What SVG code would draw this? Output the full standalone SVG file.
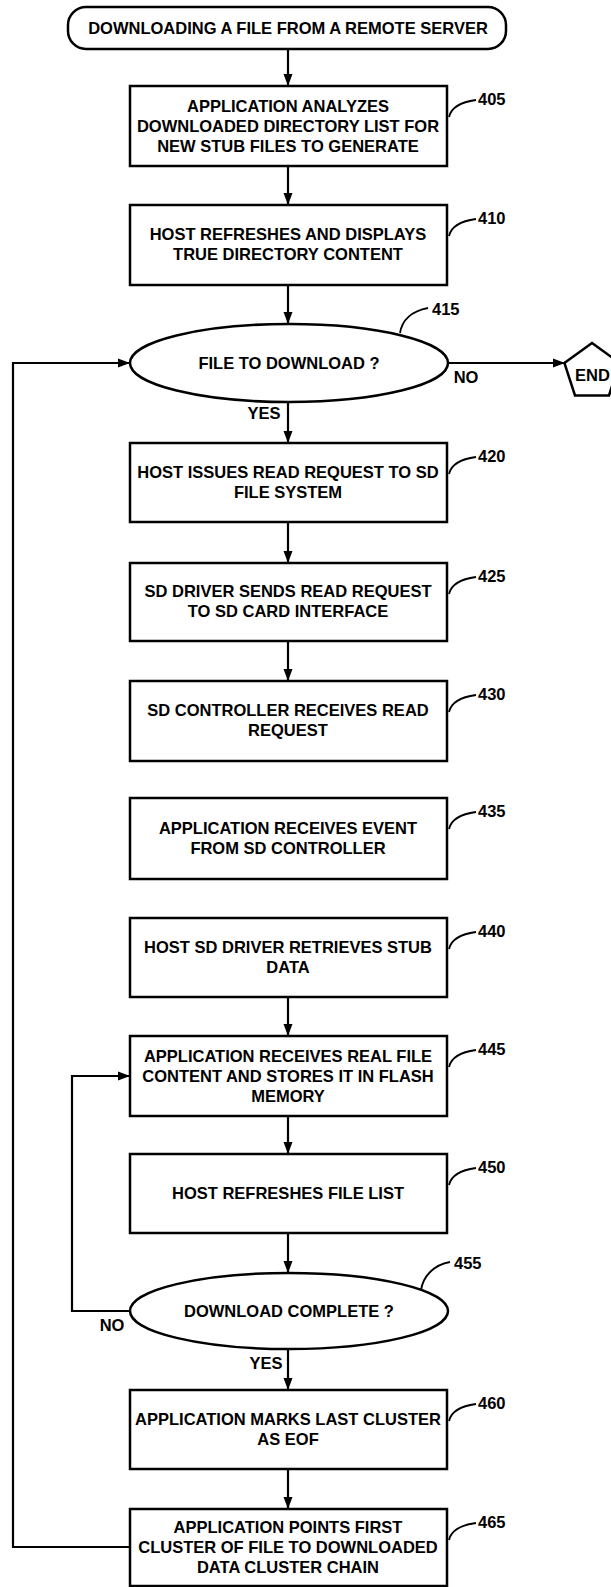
<svg xmlns="http://www.w3.org/2000/svg" width="611" height="1587" viewBox="0 0 611 1587">
<style>
text{font-family:"Liberation Sans",Arial,sans-serif;font-weight:bold;font-size:16.5px;fill:#000}
.c{text-anchor:middle}
.box{fill:#fff;stroke:#000;stroke-width:2.5}
.ln{fill:none;stroke:#000;stroke-width:2.2}
.ld{fill:none;stroke:#000;stroke-width:1.8}
</style>
<defs>
<marker id="ah" markerUnits="userSpaceOnUse" markerWidth="13" markerHeight="10" refX="12" refY="5" orient="auto">
<path d="M0,0.5 L12,5 L0,9.5 z" fill="#000"/>
</marker>
</defs>
<rect width="611" height="1587" fill="#fff"/>
<g id="connectors">
<line class="ln" x1="288" y1="49" x2="288" y2="86" marker-end="url(#ah)"/>
<line class="ln" x1="288" y1="166" x2="288" y2="205" marker-end="url(#ah)"/>
<line class="ln" x1="288" y1="285" x2="288" y2="324" marker-end="url(#ah)"/>
<line class="ln" x1="288" y1="402" x2="288" y2="443" marker-end="url(#ah)"/>
<line class="ln" x1="448" y1="363" x2="565" y2="363" marker-end="url(#ah)"/>
<line class="ln" x1="288" y1="522" x2="288" y2="563" marker-end="url(#ah)"/>
<line class="ln" x1="288" y1="641" x2="288" y2="681" marker-end="url(#ah)"/>
<line class="ln" x1="288" y1="997" x2="288" y2="1036" marker-end="url(#ah)"/>
<line class="ln" x1="288" y1="1116" x2="288" y2="1154" marker-end="url(#ah)"/>
<line class="ln" x1="288" y1="1233" x2="288" y2="1273" marker-end="url(#ah)"/>
<line class="ln" x1="288" y1="1349" x2="288" y2="1390" marker-end="url(#ah)"/>
<line class="ln" x1="288" y1="1469" x2="288" y2="1509" marker-end="url(#ah)"/>
<polyline class="ln" points="130,1311 72,1311 72,1076 130,1076" marker-end="url(#ah)"/>
<polyline class="ln" points="130,1547 13,1547 13,363 130,363" marker-end="url(#ah)"/>
<text x="264" y="419" class="c">YES</text>
<text x="466" y="383" class="c">NO</text>
<text x="266" y="1369" class="c">YES</text>
<text x="112" y="1331" class="c">NO</text>
</g>
<g id="start">
<rect class="box" x="68" y="7" width="438" height="42" rx="18"/>
<text x="288" y="34" class="c">DOWNLOADING A FILE FROM A REMOTE SERVER</text>
</g>
<g id="n405">
<rect class="box" x="130" y="86" width="317" height="80"/>
<text x="288" y="112" class="c">APPLICATION ANALYZES</text>
<text x="288" y="132" class="c">DOWNLOADED DIRECTORY LIST FOR</text>
<text x="288" y="152" class="c">NEW STUB FILES TO GENERATE</text>
<path class="ld" d="M449,117 C451,108 461,102 476,100"/>
<text x="478" y="105">405</text>
</g>
<g id="n410">
<rect class="box" x="130" y="205" width="317" height="80"/>
<text x="288" y="240" class="c">HOST REFRESHES AND DISPLAYS</text>
<text x="288" y="260" class="c">TRUE DIRECTORY CONTENT</text>
<path class="ld" d="M449,236 C451,227 461,221 476,219"/>
<text x="478" y="224">410</text>
</g>
<g id="n415">
<ellipse class="box" cx="289" cy="363" rx="159" ry="39"/>
<text x="289" y="369" class="c">FILE TO DOWNLOAD ?</text>
<path class="ld" d="M400,333 C402,320 412,311 428,308"/>
<text x="432" y="315">415</text>
</g>
<g id="end">
<polygon class="box" points="592,343 619.6,363 609,395.5 575,395.5 564.4,363"/>
<text x="575" y="381">END</text>
</g>
<g id="n420">
<rect class="box" x="130" y="443" width="317" height="79"/>
<text x="288" y="478" class="c">HOST ISSUES READ REQUEST TO SD</text>
<text x="288" y="498" class="c">FILE SYSTEM</text>
<path class="ld" d="M449,474 C451,465 461,459 476,457"/>
<text x="478" y="462">420</text>
</g>
<g id="n425">
<rect class="box" x="130" y="563" width="317" height="78"/>
<text x="288" y="597" class="c">SD DRIVER SENDS READ REQUEST</text>
<text x="288" y="617" class="c">TO SD CARD INTERFACE</text>
<path class="ld" d="M449,594 C451,585 461,579 476,577"/>
<text x="478" y="582">425</text>
</g>
<g id="n430">
<rect class="box" x="130" y="681" width="317" height="80"/>
<text x="288" y="716" class="c">SD CONTROLLER RECEIVES READ</text>
<text x="288" y="736" class="c">REQUEST</text>
<path class="ld" d="M449,712 C451,703 461,697 476,695"/>
<text x="478" y="700">430</text>
</g>
<g id="n435">
<rect class="box" x="130" y="798" width="317" height="81"/>
<text x="288" y="834" class="c">APPLICATION RECEIVES EVENT</text>
<text x="288" y="854" class="c">FROM SD CONTROLLER</text>
<path class="ld" d="M449,829 C451,820 461,814 476,812"/>
<text x="478" y="817">435</text>
</g>
<g id="n440">
<rect class="box" x="130" y="918" width="317" height="79"/>
<text x="288" y="953" class="c">HOST SD DRIVER RETRIEVES STUB</text>
<text x="288" y="973" class="c">DATA</text>
<path class="ld" d="M449,949 C451,940 461,934 476,932"/>
<text x="478" y="937">440</text>
</g>
<g id="n445">
<rect class="box" x="130" y="1036" width="317" height="80"/>
<text x="288" y="1062" class="c">APPLICATION RECEIVES REAL FILE</text>
<text x="288" y="1082" class="c">CONTENT AND STORES IT IN FLASH</text>
<text x="288" y="1102" class="c">MEMORY</text>
<path class="ld" d="M449,1067 C451,1058 461,1052 476,1050"/>
<text x="478" y="1055">445</text>
</g>
<g id="n450">
<rect class="box" x="130" y="1154" width="317" height="79"/>
<text x="288" y="1199" class="c">HOST REFRESHES FILE LIST</text>
<path class="ld" d="M449,1185 C451,1176 461,1170 476,1168"/>
<text x="478" y="1173">450</text>
</g>
<g id="n455">
<ellipse class="box" cx="289" cy="1311" rx="159" ry="38"/>
<text x="289" y="1317" class="c">DOWNLOAD COMPLETE ?</text>
<path class="ld" d="M421,1290 C423,1277 433,1265 450,1262"/>
<text x="454" y="1269">455</text>
</g>
<g id="n460">
<rect class="box" x="130" y="1390" width="317" height="79"/>
<text x="288" y="1425" class="c">APPLICATION MARKS LAST CLUSTER</text>
<text x="288" y="1445" class="c">AS EOF</text>
<path class="ld" d="M449,1421 C451,1412 461,1406 476,1404"/>
<text x="478" y="1409">460</text>
</g>
<g id="n465">
<rect class="box" x="130" y="1509" width="317" height="77"/>
<text x="288" y="1533" class="c">APPLICATION POINTS FIRST</text>
<text x="288" y="1553" class="c">CLUSTER OF FILE TO DOWNLOADED</text>
<text x="288" y="1573" class="c">DATA CLUSTER CHAIN</text>
<path class="ld" d="M449,1540 C451,1531 461,1525 476,1523"/>
<text x="478" y="1528">465</text>
</g>
</svg>
